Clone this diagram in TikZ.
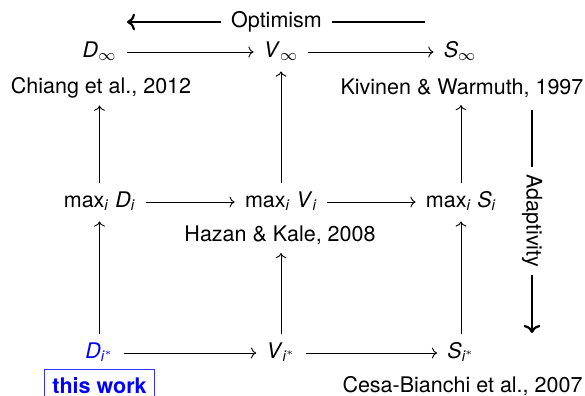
\documentclass[tikz,border=0pt]{standalone}
\usepackage{fontspec}
\setmainfont{TeX Gyre Heros}
\usetikzlibrary{arrows.meta}
\begin{document}
\begin{tikzpicture}[x=0.5pt,y=-0.5pt,
  every node/.style={font=\fontsize{10.75pt}{13pt}\selectfont},
  mnode/.style={inner sep=5pt, text height=7pt, text depth=2pt, anchor=base},
  lab/.style={inner sep=3.75pt, anchor=base},
  arr/.style={->, line width=0.45pt},
  bigarr/.style={line width=1.1pt}]
\useasboundingbox (0,0) rectangle (585,396);
% top row
\node[mnode] (Dinf) at (99.5,57) {\textit{D}\textsubscript{$\infty$}};
\node[mnode] (Vinf) at (281,57) {\textit{V}\textsubscript{$\infty$}};
\node[mnode] (Sinf) at (460,57) {\textit{S}\textsubscript{$\infty$}};
% middle row
\node[mnode] (maxD) at (99.5,207) {max\textsubscript{\itshape i}\hspace{0.3em}\textit{D}\textsubscript{\itshape i}};
\node[mnode] (maxV) at (281,207) {max\textsubscript{\itshape i}\hspace{0.3em}\textit{V}\textsubscript{\itshape i}};
\node[mnode] (maxS) at (461,207) {max\textsubscript{\itshape i}\hspace{0.3em}\textit{S}\textsubscript{\itshape i}};
% bottom row
\node[mnode, text=blue] (Distar) at (99.5,358) {\textit{D}\textsubscript{\itshape i$^{*}$}};
\node[mnode] (Vistar) at (281,358) {\textit{V}\textsubscript{\itshape i$^{*}$}};
\node[mnode] (Sistar) at (461,358) {\textit{S}\textsubscript{\itshape i$^{*}$}};
% labels
\node[lab] (chiang) at (101,93) {Chiang et al., 2012};
\node[lab] (kiv) at (462,94) {Kivinen \& Warmuth, 1997};
\node[lab] (haz) at (280,242) {Hazan \& Kale, 2008};
\node[lab] (cesa) at (462.5,392) {Cesa-Bianchi et al., 2007};
\node[draw=blue!80, line width=0.6pt, text=blue, inner sep=4pt, anchor=base, font=\fontsize{10.75pt}{13pt}\selectfont\bfseries] (tw) at (99.5,393.5) {this work};
% horizontal arrows
\draw[arr] (Dinf) -- (Vinf);
\draw[arr] (Vinf) -- (Sinf);
\draw[arr] (maxD) -- (maxV);
\draw[arr] (maxV) -- (maxS);
\draw[arr] (Distar) -- (Vistar);
\draw[arr] (Vistar) -- (Sistar);
% vertical arrows
\draw[arr] (Distar) -- (maxD);
\draw[arr] (Vistar.north) -- (Vistar.north |- haz.south);
\draw[arr] (Sistar) -- (maxS);
\draw[arr] (maxD.north) -- (maxD.north |- chiang.south);
\draw[arr] (maxV) -- (Vinf);
\draw[arr] (maxS.north) -- (maxS.north |- kiv.south);
% Optimism
\node[inner sep=5pt] (opt) at (276.5,22) {Optimism};
\coordinate (optL) at (127,22);
\coordinate (optR) at (425,22);
\draw[bigarr, ->] (opt.west) -- (optL);
\draw[bigarr] (opt.east) -- (optR);
% Adaptivity
\node[rotate=-90, inner sep=3.5pt] (ada) at (532,221) {Adaptivity};
\coordinate (adaT) at (532,110);
\coordinate (adaB) at (532,333);
\draw[bigarr] (ada.west) -- (adaT);
\draw[bigarr, ->] (ada.east) -- (adaB);
\end{tikzpicture}
\end{document}
